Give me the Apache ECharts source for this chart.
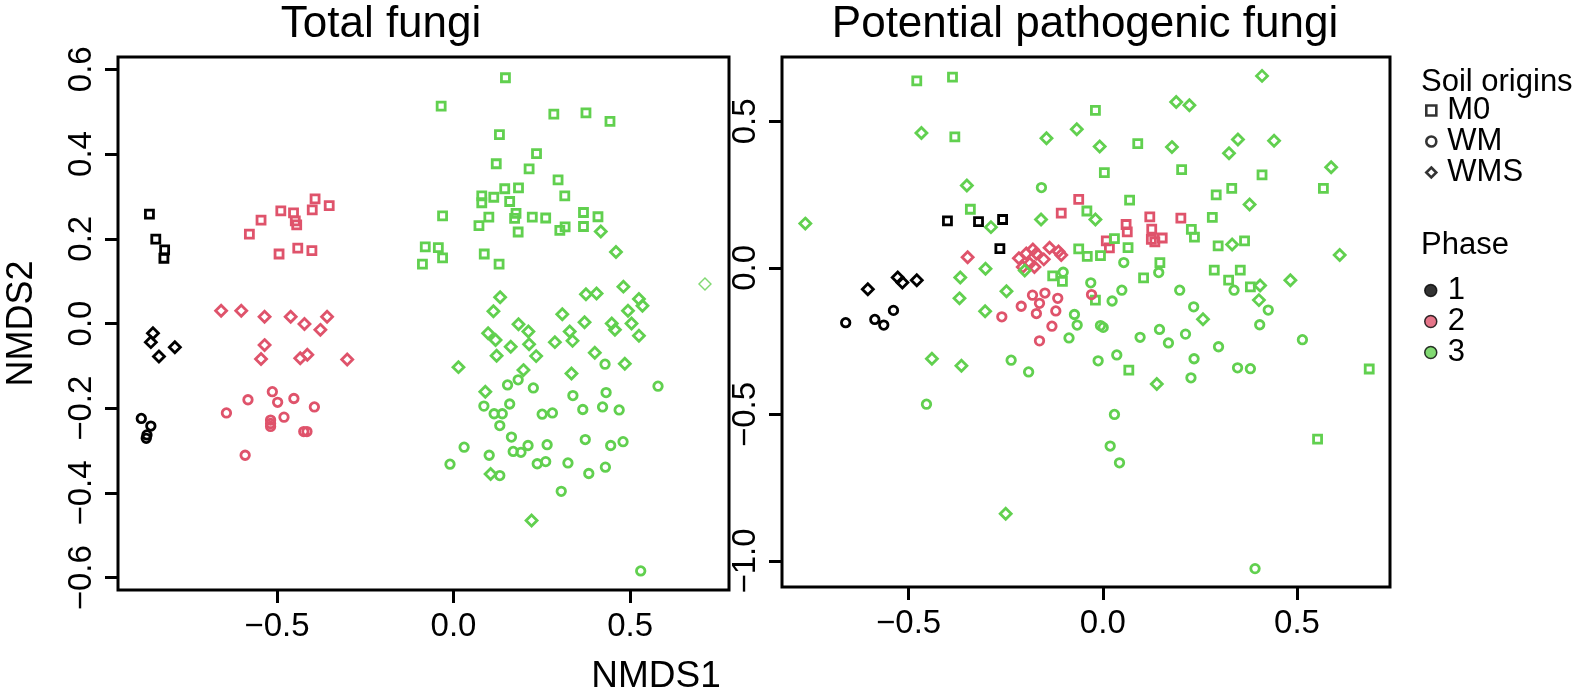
<!DOCTYPE html>
<html>
<head>
<meta charset="utf-8">
<script src="https://cdn.jsdelivr.net/npm/echarts@6/dist/echarts.min.js"></script>
<style>html,body{margin:0;padding:0;background:#fff}#c{width:1594px;height:695px}</style>
</head>
<body>
<div id="c"></div>
<script>
// ---------- DATA ----------
const panelTitles = ['Total fungi', 'Potential pathogenic fungi'];
const origins = ['M0', 'WM', 'WMS'];
const phases = ['1', '2', '3'];
const xTicksTotal = [-0.5, 0, 0.5];
const yTicksTotal = [-0.6, -0.4, -0.2, 0, 0.2, 0.4, 0.6];
const xTicksPath = [-0.5, 0, 0.5];
const yTicksPath = [-1.0, -0.5, 0, 0.5];

// Total fungi
const total_M0_p1 = [[-0.861,0.258],[-0.843,0.199],[-0.818,0.174],[-0.820,0.154]];
const total_WM_p1 = [[-0.884,-0.224],[-0.857,-0.242],[-0.868,-0.263],[-0.870,-0.271]];
const total_WMS_p1 = [[-0.851,-0.023],[-0.857,-0.044],[-0.834,-0.078],[-0.789,-0.056]];
const total_M0_p2 = [[-0.578,0.211],[-0.545,0.244],[-0.489,0.266],[-0.453,0.261],[-0.448,0.242],[-0.444,0.233],[-0.392,0.294],[-0.400,0.268],[-0.352,0.278],[-0.494,0.164],[-0.441,0.178],[-0.401,0.172]];
const total_WM_p2 = [[-0.513,-0.161],[-0.582,-0.180],[-0.498,-0.186],[-0.452,-0.177],[-0.394,-0.197],[-0.643,-0.211],[-0.480,-0.221],[-0.518,-0.228],[-0.518,-0.236],[-0.518,-0.243],[-0.424,-0.255],[-0.415,-0.255],[-0.590,-0.311]];
const total_WMS_p2 = [[-0.658,0.030],[-0.601,0.030],[-0.535,0.016],[-0.461,0.016],[-0.422,-0.001],[-0.358,0.016],[-0.377,-0.015],[-0.535,-0.051],[-0.545,-0.084],[-0.434,-0.082],[-0.414,-0.074],[-0.301,-0.085]];
const total_M0_p3 = [[0.147,0.580],[-0.035,0.513],[0.284,0.494],[0.375,0.497],[0.443,0.477],[0.130,0.446],[0.235,0.401],[0.121,0.377],[0.214,0.365],[0.296,0.339],[0.145,0.318],[0.184,0.320],[0.315,0.301],[0.080,0.301],[0.080,0.285],[0.114,0.298],[0.159,0.288],[-0.031,0.254],[0.100,0.251],[0.072,0.231],[0.177,0.260],[0.173,0.248],[0.223,0.251],[0.261,0.249],[0.368,0.262],[0.409,0.252],[0.183,0.216],[0.301,0.220],[0.316,0.228],[0.368,0.229],[-0.080,0.181],[-0.043,0.179],[-0.031,0.155],[-0.088,0.140],[0.087,0.164],[0.129,0.140]];
const total_WM_p3 = [[0.429,-0.096],[0.579,-0.148],[0.153,-0.145],[0.183,-0.133],[0.226,-0.152],[0.338,-0.170],[0.432,-0.163],[0.086,-0.195],[0.115,-0.213],[0.138,-0.213],[0.159,-0.190],[0.366,-0.203],[0.422,-0.197],[0.469,-0.204],[0.251,-0.214],[0.280,-0.211],[0.131,-0.241],[0.164,-0.268],[0.030,-0.292],[-0.010,-0.332],[0.101,-0.311],[0.169,-0.302],[0.191,-0.304],[0.211,-0.288],[0.265,-0.286],[0.373,-0.274],[0.445,-0.288],[0.480,-0.279],[0.237,-0.331],[0.261,-0.326],[0.324,-0.329],[0.383,-0.354],[0.430,-0.339],[0.131,-0.359],[0.305,-0.396],[0.530,-0.584]];
const total_WMS_p3 = [[0.417,0.217],[0.460,0.169],[0.132,0.062],[0.113,0.029],[0.375,0.069],[0.405,0.071],[0.481,0.087],[0.525,0.058],[0.535,0.042],[0.494,0.030],[0.308,0.022],[0.371,0.003],[0.448,0.000],[0.457,-0.015],[0.504,0.000],[0.525,-0.029],[0.098,-0.023],[0.119,-0.039],[0.184,-0.002],[0.212,-0.019],[0.214,-0.049],[0.162,-0.055],[0.122,-0.076],[0.234,-0.077],[0.287,-0.044],[0.329,-0.019],[0.337,-0.041],[0.400,-0.069],[0.485,-0.095],[0.014,-0.103],[0.198,-0.110],[0.334,-0.118],[0.090,-0.161],[0.105,-0.355],[0.221,-0.465]];
const total_WMS_p3_thin = [[0.712,0.093]];

// Potential pathogenic fungi
const path_M0_p1 = [[-0.400,0.160],[-0.320,0.158],[-0.258,0.165],[-0.265,0.066]];
const path_WM_p1 = [[-0.662,-0.187],[-0.587,-0.176],[-0.564,-0.195],[-0.539,-0.145]];
const path_WMS_p1 = [[-0.605,-0.073],[-0.528,-0.033],[-0.516,-0.050],[-0.479,-0.042]];
const path_M0_p2 = [[-0.062,0.234],[-0.107,0.187],[0.009,0.092],[0.017,0.068],[0.060,0.148],[0.063,0.123],[0.121,0.174],[0.126,0.132],[0.125,0.097],[0.134,0.089],[0.153,0.102],[0.201,0.170]];
const path_WM_p2 = [[-0.181,-0.093],[-0.149,-0.086],[-0.116,-0.104],[-0.210,-0.131],[-0.029,-0.091],[-0.260,-0.167],[-0.171,-0.156],[-0.121,-0.147],[-0.163,-0.121],[-0.131,-0.199],[-0.163,-0.249]];
const path_WMS_p2 = [[-0.348,0.036],[-0.216,0.033],[-0.197,0.049],[-0.180,0.063],[-0.171,0.049],[-0.152,0.029],[-0.137,0.069],[-0.114,0.056],[-0.107,0.044],[-0.188,0.015],[-0.206,0.003],[-0.176,0.003]];
const path_M0_p3 = [[-0.479,0.638],[-0.387,0.651],[-0.381,0.447],[-0.341,0.200],[-0.019,0.537],[0.004,0.325],[-0.041,0.194],[-0.062,0.065],[-0.040,0.039],[-0.006,0.042],[-0.129,-0.027],[-0.104,-0.046],[-0.019,-0.110],[0.090,0.424],[0.203,0.335],[0.410,0.317],[0.568,0.271],[0.292,0.249],[0.332,0.271],[0.069,0.231],[0.282,0.172],[0.228,0.131],[0.236,0.105],[0.030,0.100],[0.065,0.069],[0.297,0.075],[0.365,0.092],[0.105,-0.034],[0.147,0.018],[0.287,-0.008],[0.354,-0.008],[0.324,-0.042],[0.380,-0.065],[0.067,-0.349],[0.686,-0.345],[0.553,-0.584]];
const path_WM_p3 = [[-0.158,0.274],[-0.102,-0.015],[-0.031,-0.051],[-0.073,-0.159],[-0.066,-0.195],[-0.087,-0.239],[-0.006,-0.197],[0.001,-0.203],[-0.236,-0.315],[-0.191,-0.355],[-0.012,-0.317],[-0.454,-0.465],[0.024,-0.113],[0.054,0.018],[0.144,-0.016],[0.049,-0.076],[0.198,-0.076],[0.338,-0.076],[0.234,-0.133],[0.426,-0.144],[0.036,-0.297],[0.096,-0.237],[0.146,-0.210],[0.169,-0.256],[0.213,-0.226],[0.235,-0.310],[0.227,-0.375],[0.298,-0.269],[0.347,-0.341],[0.380,-0.344],[0.404,-0.194],[0.514,-0.245],[0.030,-0.500],[0.019,-0.608],[0.043,-0.665],[0.392,-1.026]];
const path_WMS_p3 = [[-0.766,0.151],[-0.467,0.460],[-0.145,0.442],[-0.067,0.473],[-0.008,0.414],[-0.350,0.281],[-0.159,0.165],[-0.019,0.165],[-0.288,0.139],[-0.302,-0.003],[-0.367,-0.033],[-0.201,-0.009],[-0.248,-0.080],[-0.369,-0.104],[-0.303,-0.148],[-0.440,-0.310],[-0.364,-0.334],[-0.250,-0.839],[0.410,0.655],[0.189,0.566],[0.223,0.555],[0.178,0.412],[0.325,0.391],[0.348,0.438],[0.441,0.434],[0.588,0.343],[0.378,0.216],[0.333,0.080],[0.610,0.044],[0.483,-0.042],[0.405,-0.060],[0.402,-0.110],[0.258,-0.175],[0.139,-0.396]];

// ---------- STYLE ----------
const FONT = "'Liberation Sans', Arial, Helvetica, sans-serif";
const phaseColors = {'1': '#000000', '2': '#DF536B', '3': '#61D04F'};
const originSymbol = {'M0': 'rect', 'WM': 'circle', 'WMS': 'diamond'};
const originSize = {'M0': 8, 'WM': 8.5, 'WMS': 11};

const panels = [
  {M0: [total_M0_p1, total_M0_p2, total_M0_p3], WM: [total_WM_p1, total_WM_p2, total_WM_p3], WMS: [total_WMS_p1, total_WMS_p2, total_WMS_p3]},
  {M0: [path_M0_p1, path_M0_p2, path_M0_p3], WM: [path_WM_p1, path_WM_p2, path_WM_p3], WMS: [path_WMS_p1, path_WMS_p2, path_WMS_p3]}
];

const fmt = v => (Math.abs(v) < 1e-9 ? 0 : v).toFixed(1).replace('-', '\u2212');

function xAxisCfg(gi, min, max, ticks) {
  return {
    type: 'value', gridIndex: gi, min: min, max: max,
    axisLine: {show: false, onZero: false}, splitLine: {show: false},
    axisTick: {show: true, length: 13, inside: false, customValues: ticks, lineStyle: {color: '#000', width: 3}},
    axisLabel: {show: true, customValues: ticks, formatter: fmt, margin: 20, color: '#000', fontFamily: FONT, fontSize: 33}
  };
}
function yAxisCfg(gi, min, max, ticks, name) {
  const a = {
    type: 'value', gridIndex: gi, min: min, max: max,
    axisLine: {show: false, onZero: false}, splitLine: {show: false},
    axisTick: {show: true, length: 13, inside: false, customValues: ticks, lineStyle: {color: '#000', width: 3}},
    axisLabel: {show: true, customValues: ticks, formatter: fmt, rotate: 90, margin: 20, color: '#000', fontFamily: FONT, fontSize: 33}
  };
  if (name) {
    a.name = name; a.nameLocation = 'middle'; a.nameGap = 78; a.nameRotate = 90;
    a.nameTextStyle = {color: '#000', fontFamily: FONT, fontSize: 36};
  }
  return a;
}

const series = [];
panels.forEach((p, gi) => {
  origins.forEach(o => {
    phases.forEach((ph, k) => {
      series.push({
        type: 'scatter', name: o + '-' + ph, xAxisIndex: gi, yAxisIndex: gi,
        data: p[o][k], symbol: originSymbol[o], symbolSize: originSize[o],
        itemStyle: {color: 'rgba(255,255,255,0)', borderColor: phaseColors[ph], borderWidth: 2.8, opacity: 1},
        emphasis: {disabled: true}, silent: true, z: 3
      });
    });
  });
});
series.push({
  type: 'scatter', name: 'WMS-3-thin', xAxisIndex: 0, yAxisIndex: 0,
  data: total_WMS_p3_thin, symbol: 'diamond', symbolSize: 12,
  itemStyle: {color: 'rgba(255,255,255,0)', borderColor: phaseColors['3'], borderWidth: 1.4},
  emphasis: {disabled: true}, silent: true, z: 3
});
// legend-only series
origins.forEach(o => series.push({type: 'scatter', name: o, data: [], symbol: originSymbol[o],
  itemStyle: {color: '#fff', borderColor: '#000', borderWidth: 2.6}}));
phases.forEach(ph => series.push({type: 'scatter', name: ph, data: [], symbol: 'circle',
  itemStyle: {color: phaseColors[ph], borderColor: '#000', borderWidth: 1.5}}));

const legendText = {fontFamily: FONT, fontSize: 31, color: '#000', lineHeight: 30, padding: [0, 0, 0, 6]};

const chart = echarts.init(document.getElementById('c'), null, {renderer: 'canvas'});
chart.setOption({
  animation: false,
  backgroundColor: '#fff',
  title: [
    {text: panelTitles[0], left: 381, top: 2, textAlign: 'center', padding: 0, textStyle: {fontFamily: FONT, fontSize: 44, fontWeight: 'normal', color: '#000', lineHeight: 46}},
    {text: panelTitles[1], left: 1085, top: 2, textAlign: 'center', padding: 0, textStyle: {fontFamily: FONT, fontSize: 44, fontWeight: 'normal', color: '#000', lineHeight: 46}},
    {text: 'NMDS1', left: 656, top: 658, textAlign: 'center', padding: 0, textStyle: {fontFamily: FONT, fontSize: 37, fontWeight: 'normal', color: '#000', lineHeight: 38}},
    {text: 'Soil origins', left: 1421, top: 66, padding: 0, textStyle: {fontFamily: FONT, fontSize: 31, fontWeight: 'normal', color: '#000', lineHeight: 32}},
    {text: 'Phase', left: 1421, top: 229, padding: 0, textStyle: {fontFamily: FONT, fontSize: 31, fontWeight: 'normal', color: '#000', lineHeight: 32}}
  ],
  legend: [
    {orient: 'vertical', left: 1425, top: 95, itemGap: 0, itemWidth: 10, itemHeight: 10, padding: 0, selectedMode: false,
     textStyle: legendText,
     data: [
       {name: 'M0', icon: 'rect', itemStyle: {color: '#fff', borderColor: '#000', borderWidth: 2.6}},
       {name: 'WM', icon: 'circle', itemStyle: {color: '#fff', borderColor: '#000', borderWidth: 2.6}},
       {name: 'WMS', icon: 'diamond', itemStyle: {color: '#fff', borderColor: '#000', borderWidth: 2.6}}
     ]},
    {orient: 'vertical', left: 1424, top: 275, itemGap: 0, itemWidth: 12, itemHeight: 12, padding: 0, selectedMode: false,
     textStyle: legendText,
     data: phases.map(ph => ({name: ph, icon: 'circle', itemStyle: {color: phaseColors[ph], borderColor: '#000', borderWidth: 1.5}}))}
  ],
  grid: [
    {left: 118, top: 57, width: 611, height: 533, show: true, borderColor: '#000', borderWidth: 3, backgroundColor: 'transparent'},
    {left: 782, top: 57, width: 608, height: 530, show: true, borderColor: '#000', borderWidth: 3, backgroundColor: 'transparent'}
  ],
  xAxis: [
    xAxisCfg(0, -0.95, 0.78, xTicksTotal),
    xAxisCfg(1, -0.826, 0.7395, xTicksPath)
  ],
  yAxis: [
    yAxisCfg(0, -0.629, 0.629, yTicksTotal, 'NMDS2'),
    yAxisCfg(1, -1.0887, 0.7194, yTicksPath, null)
  ],
  series: series
});
</script>
</body>
</html>
